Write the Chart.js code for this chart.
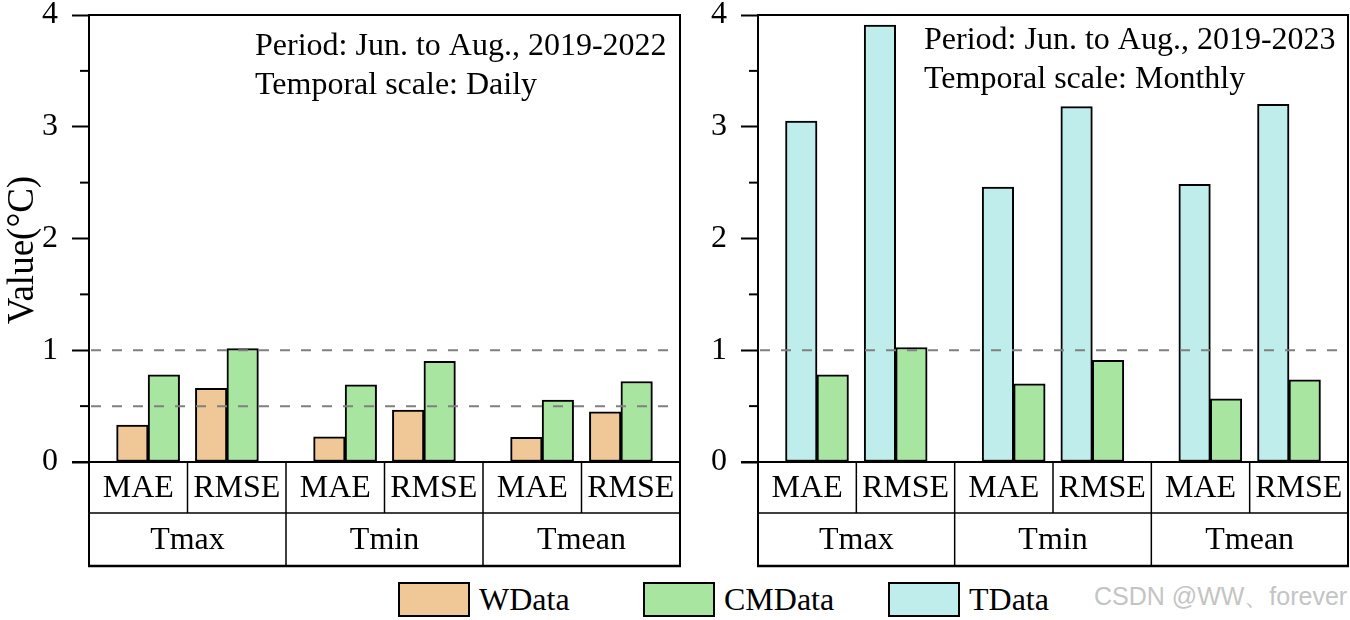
<!DOCTYPE html>
<html>
<head>
<meta charset="utf-8">
<script src="https://cdn.jsdelivr.net/npm/chart.js@4.4.1/dist/chart.umd.min.js"></script>
<style>
  body { margin: 0; width: 1350px; height: 620px; background: #fff; position: relative; overflow: hidden; }
  #leftWrap { position: absolute; left: 0; top: 0; width: 700px; height: 576px; }
  #rightWrap { position: absolute; left: 700px; top: 0; width: 650px; height: 576px; }
  #legend { position: absolute; left: 398px; top: 582px; display: flex; font-family: "Liberation Serif"; font-size: 32px; }
  .item { width: 245px; display: flex; align-items: center; height: 35px; }
  .box { width: 68px; height: 31px; border: 2px solid #000; margin-right: 9px; }
  #mark { position: absolute; left: 1094px; top: 584px; font-family: "Liberation Sans"; font-size: 25px; line-height: 25px; color: #c4c4c4; }
</style>
</head>
<body>
<div id="leftWrap"><canvas id="left"></canvas></div>
<div id="rightWrap"><canvas id="right"></canvas></div>
<div id="legend"></div>
<div id="mark">CSDN @WW、forever</div>
<script>
// categories
const metrics = ["MAE", "RMSE"];
const variables = ["Tmax", "Tmin", "Tmean"];
const yTicks = [0, 1, 2, 3, 4];
const yMinor = [0.5, 1.5, 2.5, 3.5];

// values in order Tmax MAE, Tmax RMSE, Tmin MAE, Tmin RMSE, Tmean MAE, Tmean RMSE
// daily, 2019-2022
const wDataDaily = [0.33, 0.66, 0.225, 0.465, 0.22, 0.45];
const cmDataDaily = [0.78, 1.015, 0.69, 0.90, 0.555, 0.72];
// monthly, 2019-2023
const tDataMonthly = [3.05, 3.91, 2.46, 3.18, 2.485, 3.20];
const cmDataMonthly = [0.78, 1.025, 0.70, 0.91, 0.566, 0.736];

const seriesNames = ["WData", "CMData", "TData"];
const seriesColors = ["#F0C796", "#A8E5A0", "#BEEDEC"];

const FONT = '"Liberation Serif"';

// bar centres in variable units: pairs sit a bit inward of each metric cell
const slots = [0.22, 0.62];
const barStep = 0.16;
const place = (values, k) =>
  values.map((y, i) => ({ x: Math.floor(i / 2) + slots[i % 2] + k * barStep, y: y }));

const line = (ctx, x1, y1, x2, y2, w) => {
  ctx.lineWidth = w;
  ctx.beginPath();
  ctx.moveTo(x1, y1);
  ctx.lineTo(x2, y2);
  ctx.stroke();
};

const panelPlugin = {
  id: "panel",
  afterDatasetsDraw(chart, args, opts) {
    const ctx = chart.ctx;
    const { left, right, top, bottom } = chart.chartArea;
    const ys = chart.scales.y;
    const xs = chart.scales.x;
    ctx.save();

    // dashed reference lines
    ctx.strokeStyle = "#808080";
    ctx.setLineDash([10, 11]);
    opts.refLines.forEach((v) => {
      const y = ys.getPixelForValue(v);
      line(ctx, left + 2, y, right, y, 2);
    });
    ctx.setLineDash([]);

    // frame
    ctx.strokeStyle = "#000";
    line(ctx, left, top, right + 1, top, 2);
    line(ctx, right, top, right, bottom, 2);
    line(ctx, left - 17, bottom, right + 1, bottom, 2);
    yMinor.forEach((v) => {
      const y = ys.getPixelForValue(v);
      line(ctx, left - 9, y, left, y, 2);
    });

    // category table below the axis
    const row1 = bottom + 51;
    const row2 = bottom + 104;
    for (let i = 0; i <= variables.length * metrics.length; i++) {
      const x = xs.getPixelForValue(i / metrics.length);
      const edge = i === 0 || i === variables.length * metrics.length;
      line(ctx, x, bottom, x, edge ? row2 : row1, edge ? 2 : 1.5);
    }
    for (let i = 1; i < variables.length; i++) {
      const x = xs.getPixelForValue(i);
      line(ctx, x, row1, x, row2, 1.5);
    }
    line(ctx, left, row1, right, row1, 1.5);
    line(ctx, left - 1, row2, right + 1, row2, 2.5);

    ctx.fillStyle = "#000";
    ctx.textAlign = "center";
    ctx.textBaseline = "middle";
    ctx.font = "32px " + FONT;
    variables.forEach((v, i) => {
      metrics.forEach((m, j) => {
        ctx.fillText(m, xs.getPixelForValue(i + (j + 0.5) / metrics.length), (bottom + row1) / 2 + 1);
      });
      ctx.fillText(v, xs.getPixelForValue(i + 0.5), (row1 + row2) / 2 + 1);
    });

    // notes
    ctx.textAlign = "left";
    ctx.textBaseline = "alphabetic";
    opts.notes.forEach((t, i) => {
      ctx.fillText(t, left + 166, top + opts.noteTop + i * 39);
    });

    // y title
    if (opts.yTitle) {
      ctx.translate(33, 250);
      ctx.rotate(-Math.PI / 2);
      ctx.textAlign = "center";
      ctx.font = "37px " + FONT;
      ctx.fillText(opts.yTitle, 0, 0);
    }
    ctx.restore();
  },
};

function makePanel(id, sets, panel) {
  return new Chart(document.getElementById(id), {
    type: "bar",
    data: {
      datasets: sets.map((s) => ({
        label: s.label,
        data: s.data,
        backgroundColor: s.color,
        borderColor: "#000",
        borderWidth: 2,
        borderSkipped: false,
        grouped: false,
        barThickness: 31.5,
      })),
    },
    options: {
      responsive: true,
      maintainAspectRatio: false,
      animation: false,
      layout: { padding: { top: 15, right: panel.padRight, bottom: 114, left: 0 } },
      plugins: {
        legend: { display: false },
        tooltip: { enabled: false },
        panel: panel,
      },
      scales: {
        x: { type: "linear", min: 0, max: variables.length, offset: false, display: false },
        y: {
          min: 0,
          max: 4,
          afterBuildTicks: (s) => { s.ticks = yTicks.map((v) => ({ value: v })); },
          afterFit: (s) => { s.width = panel.axisWidth; },
          // tiny lineHeight keeps the top label from pushing the plot area down
          ticks: { color: "#000", padding: 14, font: { family: FONT, size: 32, lineHeight: 0.02 } },
          grid: { drawOnChartArea: false, tickLength: 17, tickWidth: 2, tickColor: "#000" },
          border: { display: true, color: "#000", width: 2 },
        },
      },
    },
    plugins: [panelPlugin],
  });
}

makePanel("left", [
  { label: seriesNames[0], data: place(wDataDaily, 0), color: seriesColors[0] },
  { label: seriesNames[1], data: place(cmDataDaily, 1), color: seriesColors[1] },
], {
  refLines: [1, 0.5],
  notes: ["Period: Jun. to Aug., 2019-2022", "Temporal scale: Daily"],
  noteTop: 40,
  yTitle: "Value(°C)",
  axisWidth: 89,
  padRight: 20,
});

makePanel("right", [
  { label: seriesNames[2], data: place(tDataMonthly, 0), color: seriesColors[2] },
  { label: seriesNames[1], data: place(cmDataMonthly, 1), color: seriesColors[1] },
], {
  refLines: [1],
  notes: ["Period: Jun. to Aug., 2019-2023", "Temporal scale: Monthly"],
  noteTop: 34,
  yTitle: null,
  axisWidth: 58,
  padRight: 2,
});

// legend
const legend = document.getElementById("legend");
seriesNames.forEach((name, i) => {
  const item = document.createElement("div");
  item.className = "item";
  const box = document.createElement("div");
  box.className = "box";
  box.style.background = seriesColors[i];
  const label = document.createElement("span");
  label.textContent = name;
  item.appendChild(box);
  item.appendChild(label);
  legend.appendChild(item);
});
</script>
</body>
</html>
